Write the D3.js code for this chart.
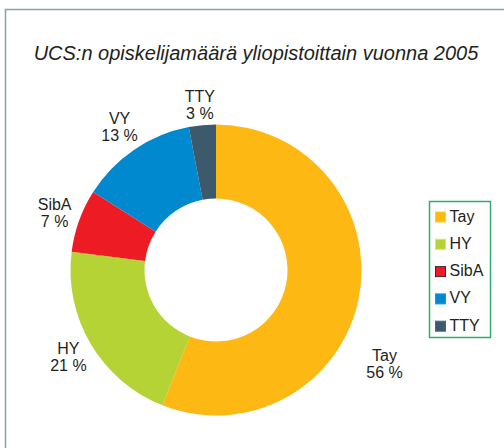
<!DOCTYPE html>
<html>
<head>
<meta charset="utf-8">
<script src="https://cdn.jsdelivr.net/npm/d3@7"></script>
<style>
  body { margin: 0; background: #fff; }
  text { font-family: "Liberation Sans", Arial, sans-serif; fill: #231f20; }
</style>
</head>
<body>
<svg id="chart" width="504" height="448"></svg>
<script>
// data
var names = ["Tay", "HY", "SibA", "VY", "TTY"];
var shares = [56, 21, 7, 13, 3];
var colors = ["#fdb813", "#b5d334", "#ed1c24", "#0089cf", "#3d5a6c"];
var title = "UCS:n opiskelijamäärä yliopistoittain vuonna 2005";

var svg = d3.select("#chart"),
    width = +svg.attr("width"),
    height = +svg.attr("height");

var cx = 216, cy = 270;
var outerR = 145.5, innerR = 71.5;

// frame (runs off the right and bottom edge)
svg.append("rect")
  .attr("x", 5.5)
  .attr("y", 9.5)
  .attr("width", 700)
  .attr("height", 700)
  .attr("fill", "none")
  .attr("stroke", "#8d9ea9")
  .attr("stroke-width", 1.5);

svg.append("text")
  .attr("x", 256)
  .attr("y", 60)
  .attr("text-anchor", "middle")
  .style("font-size", "20px")
  .style("font-style", "italic")
  .text(title);

var pie = d3.pie().sort(null).value(function(d) { return d; });
var arcs = pie(shares);

var arc = d3.arc().innerRadius(innerR).outerRadius(outerR);

var g = svg.append("g").attr("transform", "translate(" + cx + "," + cy + ")");

g.selectAll("path")
  .data(arcs)
  .enter().append("path")
  .attr("d", arc)
  .attr("fill", function(d, i) { return colors[i]; });

// labels outside the ring, box pushed out along the mid angle
var gap = 9, hw = 17, hh = 15;
var nudge = [62, 0, 0, -3, 3]; // Tay label sits lower in the original
var labels = g.selectAll(".lbl")
  .data(arcs)
  .enter().append("text")
  .attr("class", "lbl")
  .attr("text-anchor", "middle")
  .style("font-size", "16px")
  .attr("transform", function(d, i) {
    var a = (d.startAngle + d.endAngle) / 2;
    var ux = Math.sin(a), uy = -Math.cos(a);
    var x = ux * (outerR + gap) + ux * hw;
    var y = uy * (outerR + gap) + uy * hh + nudge[i];
    return "translate(" + x + "," + y + ")";
  });

labels.append("tspan")
  .attr("x", 0)
  .attr("dy", "-0.15em")
  .text(function(d, i) { return names[i]; });

labels.append("tspan")
  .attr("x", 0)
  .attr("dy", "1.05em")
  .text(function(d, i) { return shares[i] + " %"; });

// legend
var legend = svg.append("g").attr("transform", "translate(429.5,201.5)");
legend.append("rect")
  .attr("width", 61)
  .attr("height", 136)
  .attr("fill", "#fff")
  .attr("stroke", "#2fae6b")
  .attr("stroke-width", 1.5);

var item = legend.selectAll(".item")
  .data(names)
  .enter().append("g")
  .attr("class", "item")
  .attr("transform", function(d, i) { return "translate(0," + (18 + i * 27.3) + ")"; });

item.append("rect")
  .attr("x", 6)
  .attr("y", -7.5)
  .attr("width", 10)
  .attr("height", 10)
  .attr("fill", function(d, i) { return colors[i]; })
  .attr("stroke", function(d, i) { return i == 2 ? "#3a2a2a" : d3.color(colors[i]).brighter(0.4); })
  .attr("stroke-width", 1);

item.append("text")
  .attr("x", 20)
  .attr("y", 2)
  .style("font-size", "16px")
  .text(function(d) { return d; });
</script>
</body>
</html>
